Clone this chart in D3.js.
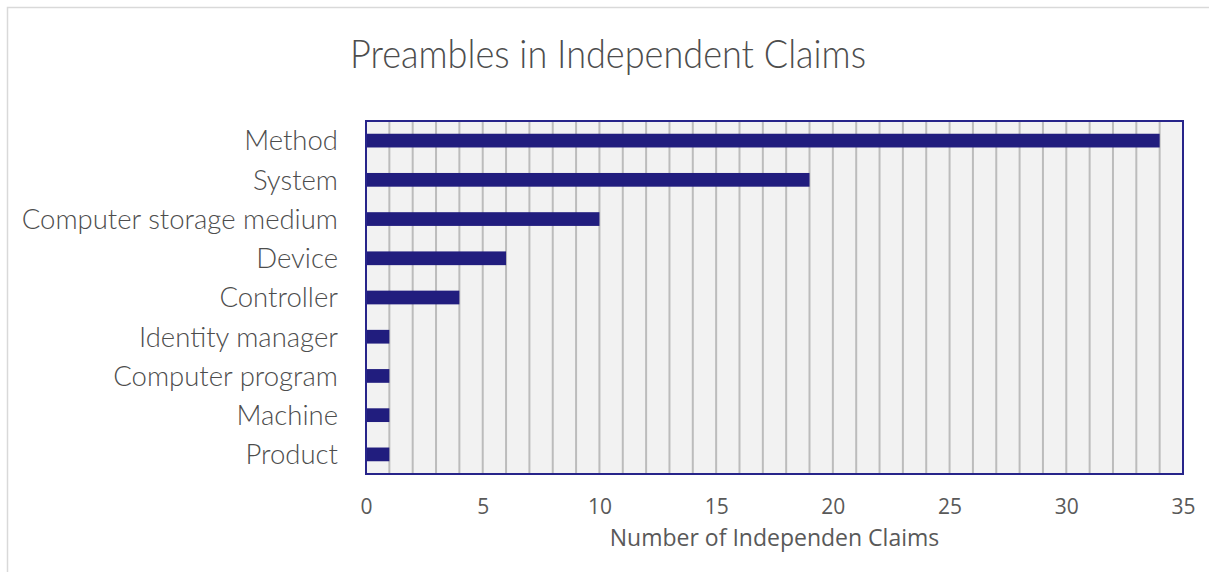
<!DOCTYPE html>
<html>
<head>
<meta charset="utf-8">
<script src="https://cdn.jsdelivr.net/npm/d3@7"></script>
<style>
  html, body { margin: 0; padding: 0; background: #fff; }
  svg { display: block; }
</style>
</head>
<body>
<svg id="chart" width="1209" height="572"></svg>
<script>
// Preamble types found in independent claims, with their counts
const categories = ["Method", "System", "Computer storage medium", "Device", "Controller",
                    "Identity manager", "Computer program", "Machine", "Product"];
const counts = [34, 19, 10, 6, 4, 1, 1, 1, 1];
const tickValues = [0, 5, 10, 15, 20, 25, 30, 35];
const gridValues = d3.range(1, 35);

const svg = d3.select("#chart");
const W = 1209, H = 572;
const plot = { left: 366, top: 121, right: 1183, bottom: 474 };

// Outer chart frame
svg.append("rect")
  .attr("x", 7.5).attr("y", 7.5)
  .attr("width", W + 10).attr("height", H + 10)
  .attr("fill", "#fff")
  .attr("stroke", "#d9d9d9").attr("stroke-width", 1.5);

const x = d3.scaleLinear().domain([0, 35]).range([plot.left, plot.right]);
const y = d3.scaleBand().domain(categories).range([plot.top, plot.bottom]).paddingInner(0.65).paddingOuter(0.325);

// Plot background
svg.append("rect")
  .attr("x", plot.left).attr("y", plot.top)
  .attr("width", plot.right - plot.left).attr("height", plot.bottom - plot.top)
  .attr("fill", "#f2f2f2");

// Vertical gridlines at every unit
svg.append("g").selectAll("line").data(gridValues).join("line")
  .attr("x1", d => x(d)).attr("x2", d => x(d))
  .attr("y1", plot.top).attr("y2", plot.bottom)
  .attr("stroke", "#bcbcbc").attr("stroke-width", 2);

// Bars
svg.append("g").selectAll("rect").data(categories).join("rect")
  .attr("x", x(0))
  .attr("y", d => y(d))
  .attr("width", (d, i) => x(counts[i]) - x(0))
  .attr("height", y.bandwidth())
  .attr("fill", "#211d7e");

// Plot border
svg.append("rect")
  .attr("x", plot.left).attr("y", plot.top)
  .attr("width", plot.right - plot.left).attr("height", plot.bottom - plot.top)
  .attr("fill", "none")
  .attr("stroke", "#27248a").attr("stroke-width", 2);

// Category labels
const yAxis = d3.axisLeft(y).tickSize(0).tickPadding(28);
const yg = svg.append("g").attr("transform", `translate(${plot.left},1)`).call(yAxis);
yg.select(".domain").remove();
yg.selectAll("text")
  .attr("fill", "#4d4d4d")
  .style("font-family", "Lato, 'Open Sans', sans-serif")
  .style("font-weight", 300)
  .style("font-size", "27.5px");

// Value axis
const xAxis = d3.axisBottom(x).tickValues(tickValues).tickSize(0).tickPadding(24);
const xg = svg.append("g").attr("transform", `translate(0,${plot.bottom})`).call(xAxis);
xg.select(".domain").remove();
xg.selectAll("text")
  .attr("fill", "#595959")
  .attr("dy", null).attr("y", 40)
  .style("font-family", "'Open Sans', Calibri, sans-serif")
  .style("font-size", "21px");

// Axis title
svg.append("text")
  .attr("x", (plot.left + plot.right) / 2).attr("y", 546)
  .attr("text-anchor", "middle")
  .attr("fill", "#595959")
  .style("font-family", "'Open Sans', Calibri, sans-serif")
  .style("font-size", "23px")
  .text("Number of Independen Claims");

// Chart title
svg.append("text")
  .attr("x", 608).attr("y", 68)
  .attr("text-anchor", "middle")
  .attr("fill", "#4d4d4d")
  .attr("textLength", 516)
  .attr("lengthAdjust", "spacingAndGlyphs")
  .style("font-family", "Lato, 'Open Sans', sans-serif")
  .style("font-weight", 300)
  .style("font-size", "40px")
  .text("Preambles in Independent Claims");
</script>
</body>
</html>
